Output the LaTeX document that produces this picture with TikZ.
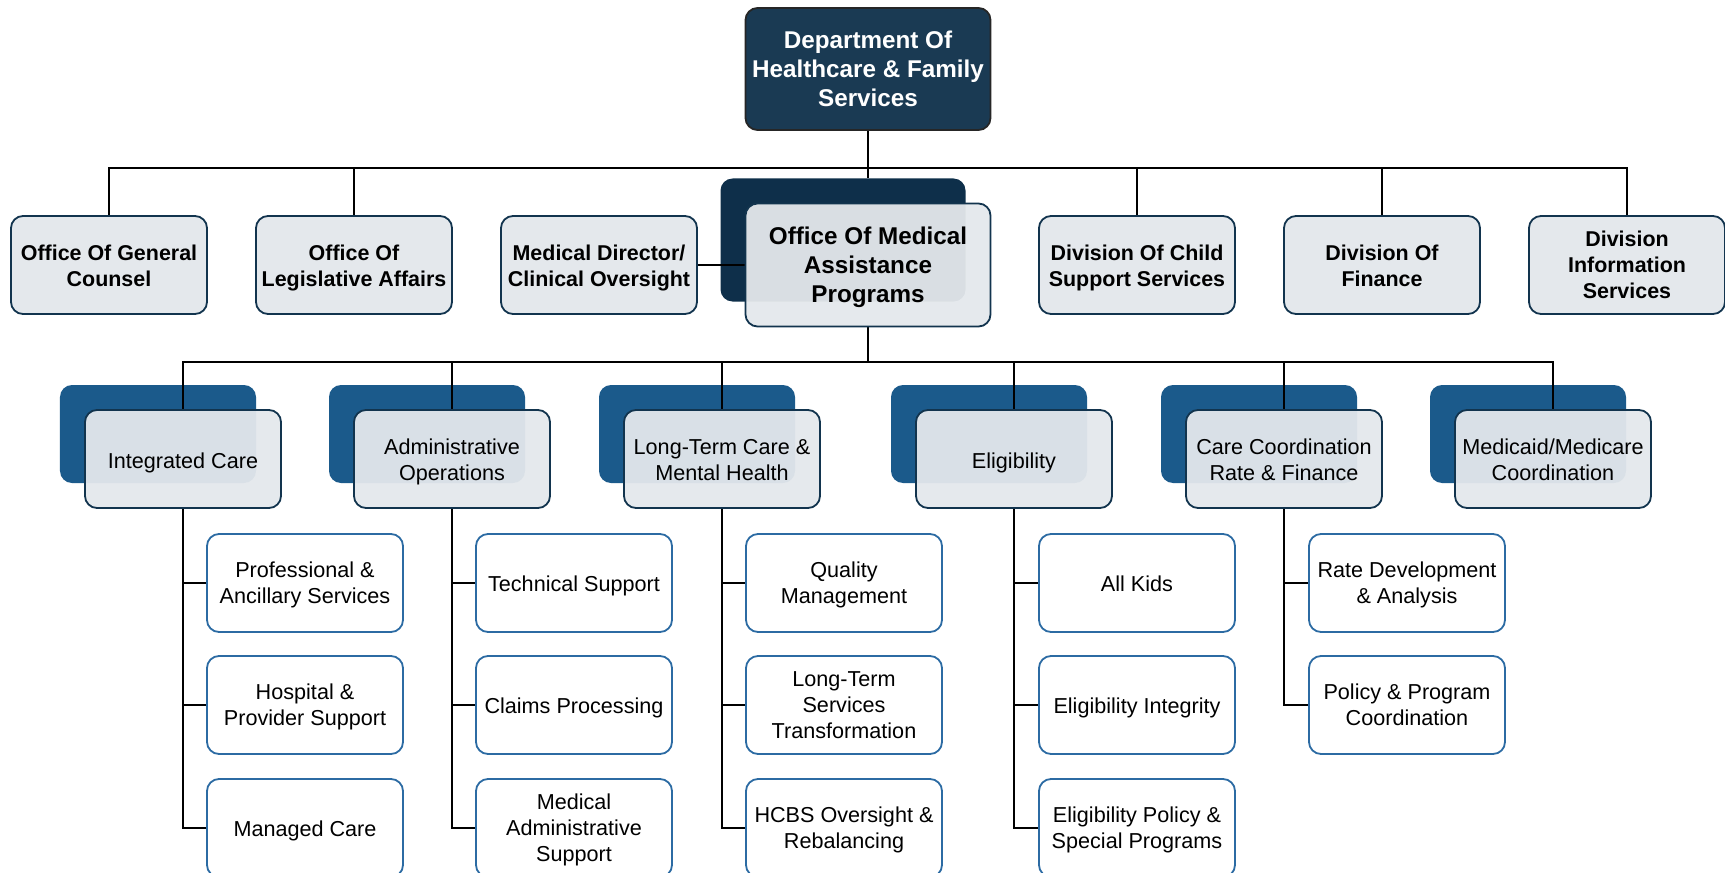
\documentclass[tikz,border=0pt]{standalone}
\usepackage{fontspec}
\setmainfont{Liberation Sans}
\usetikzlibrary{positioning, calc}
\definecolor{deptblue}{HTML}{1A3A53}
\definecolor{omapdark}{HTML}{0E2F4A}
\definecolor{unitblue}{HTML}{1B5A8B}
\definecolor{paleblue}{HTML}{E4E8EC}
\definecolor{navyline}{HTML}{12344E}
\definecolor{leafline}{HTML}{2C6BA3}
\pgfdeclarelayer{shade}
\pgfdeclarelayer{wires}
\pgfsetlayers{shade,wires,main}
\tikzset{
  lift/.style={execute at begin node={\rule[-2.6pt]{0pt}{\dimexpr #1+2.6pt\relax}}},
  box/.style={draw=navyline, line width=0.36mm, rounded corners=2.4mm, align=center,
    inner sep=0pt, minimum width=39.2mm, minimum height=19.6mm},
  headbox/.style={box, draw=black!85, fill=deptblue, text=white, minimum width=49mm,
    minimum height=24.4mm, font=\fontsize{13.8}{16.5}\selectfont\bfseries},
  officebox/.style={box, fill=paleblue, font=\fontsize{12.2}{14.8}\selectfont\bfseries, lift=#1},
  officebox/.default=26.9pt,
  mainbox/.style={box, fill=paleblue, fill opacity=0.95, text opacity=1, minimum width=49mm,
    minimum height=24.6mm, font=\fontsize{13.8}{16.5}\selectfont\bfseries, lift=45.6pt},
  unitbox/.style={box, fill=paleblue, fill opacity=0.95, text opacity=1,
    font=\fontsize{12.3}{14.8}\selectfont, lift=#1},
  backbox/.style={rounded corners=2.4mm, inner sep=0pt, minimum width=39.2mm, minimum height=19.6mm},
  leaf/.style={box, draw=leafline, fill=white, font=\fontsize{12.3}{14.8}\selectfont, lift=#1},
  leaf/.default=26.3pt,
  wire/.style={line width=0.4mm, black}
}
\begin{document}
\begin{tikzpicture}[x=0.2mm, y=-0.2mm]
\useasboundingbox (0,0) rectangle (1725,873);
\clip (0,0) rectangle (1725,873);
% top and first level
\node[headbox] (dept) at (868,69) {Department Of\\Healthcare \& Family\\Services};
\node[officebox] (counsel) at (109,265) {Office Of General\\Counsel};
\node[officebox] (legis) at (354,265) {Office Of\\Legislative Affairs};
\node[officebox] (meddir) at (599,265) {Medical Director/\\Clinical Oversight};
\node[mainbox] (omap) at (868,265) {Office Of Medical\\Assistance\\Programs};
\node[officebox] (child) at (1137,265) {Division Of Child\\Support Services};
\node[officebox] (finance) at (1382,265) {Division Of\\Finance};
\node[officebox=41.2pt] (info) at (1627,265) {Division\\Information\\Services};
\begin{pgfonlayer}{shade}
\node[backbox, fill=omapdark, minimum width=49mm, minimum height=24.6mm] (omapbk) at (843,240) {};
\end{pgfonlayer}
% second level
\foreach \n/\x/\l/\t in {integ/183/13.5pt/{Integrated Care}, admin/452/27.5pt/{Administrative\\Operations},
  ltc/722/27.5pt/{Long-Term Care \&\\Mental Health}, elig/1014/13.5pt/{Eligibility},
  care/1284/27.5pt/{Care Coordination\\Rate \& Finance}, medic/1553/27.5pt/{Medicaid/Medicare\\Coordination}}{
  \node[unitbox=\l] (\n) at (\x,459) {\t};
  \begin{pgfonlayer}{shade}
  \node[backbox, fill=unitblue] (\n bk) at (\x-25,434) {};
  \end{pgfonlayer}
}
% third level
\node[leaf] (integ1) at (305,583) {Professional \&\\Ancillary Services};
\node[leaf] (integ2) at (305,705) {Hospital \&\\Provider Support};
\node[leaf=12pt] (integ3) at (305,828) {Managed Care};
\node[leaf=12pt] (admin1) at (574,583) {Technical Support};
\node[leaf=12pt] (admin2) at (574,705) {Claims Processing};
\node[leaf=41.2pt] (admin3) at (574,828) {Medical\\Administrative\\Support};
\node[leaf] (ltc1) at (844,583) {Quality\\Management};
\node[leaf=41.2pt] (ltc2) at (844,705) {Long-Term\\Services\\Transformation};
\node[leaf] (ltc3) at (844,828) {HCBS Oversight \&\\Rebalancing};
\node[leaf=12pt] (elig1) at (1137,583) {All Kids};
\node[leaf=12pt] (elig2) at (1137,705) {Eligibility Integrity};
\node[leaf] (elig3) at (1137,828) {Eligibility Policy \&\\Special Programs};
\node[leaf] (care1) at (1407,583) {Rate Development\\\& Analysis};
\node[leaf] (care2) at (1407,705) {Policy \& Program\\Coordination};
% connectors
\begin{pgfonlayer}{wires}
\draw[wire] (dept.south) -- ++(0,37) coordinate (bus);
\foreach \n in {counsel,legis,child,finance,info}
  \draw[wire] (bus) -| (\n.north);
\draw[wire] (bus) -- (omapbk.north -| bus);
\draw[wire] (meddir) -- (omap);
\draw[wire] (omap.south) -- ++(0,35) coordinate (bus2);
\foreach \n in {integ,admin,ltc,elig,care,medic}
  \draw[wire] (bus2) -| (\n.north);
\foreach \p/\c in {integ/integ1,integ/integ2,integ/integ3,admin/admin1,admin/admin2,admin/admin3,
  ltc/ltc1,ltc/ltc2,ltc/ltc3,elig/elig1,elig/elig2,elig/elig3,care/care1,care/care2}
  \draw[wire] (\p.south) |- (\c.west);
\end{pgfonlayer}
\end{tikzpicture}
\end{document}
